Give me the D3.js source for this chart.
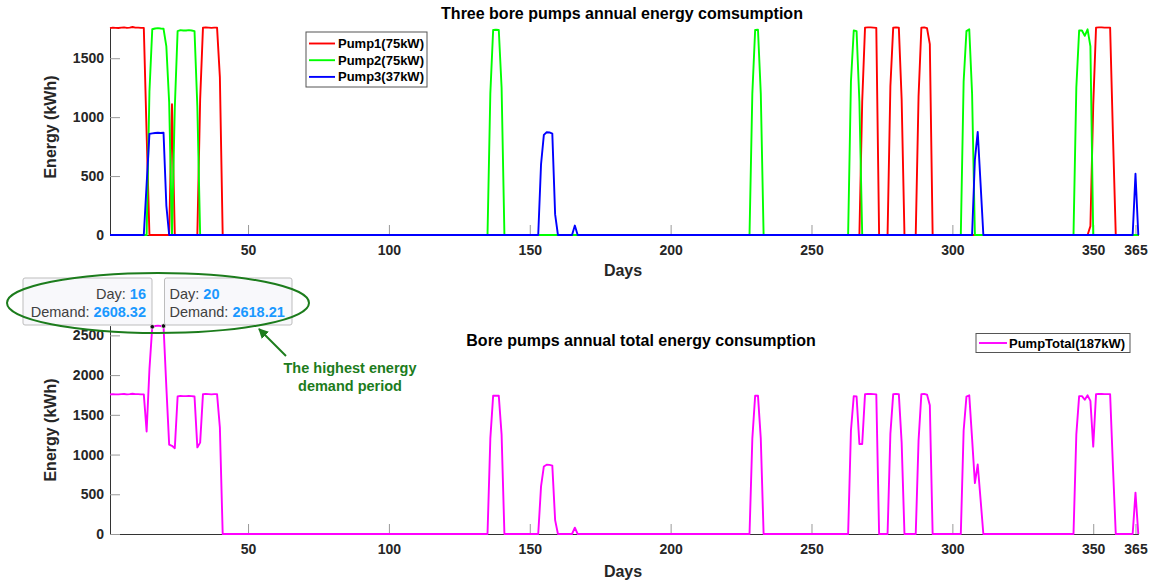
<!DOCTYPE html>
<html><head><meta charset="utf-8">
<script src="https://cdn.jsdelivr.net/npm/d3@7"></script>
<style>
body{margin:0;background:#fff}
svg{display:block}
text{font-family:"Liberation Sans",Arial,Helvetica,sans-serif}
</style>
</head><body>
<svg id="c" width="1153" height="583"></svg>
<script>
// ---------------- data ----------------
const dayCount = 366;                       // days 1..366 on the x axis
const xTickValues = [50, 100, 150, 200, 250, 300, 350, 365];
const topYTicks = [0, 500, 1000, 1500];
const bottomYTicks = [0, 500, 1000, 1500, 2000, 2500];
const seriesNames = ["Pump1(75kW)", "Pump2(75kW)", "Pump3(37kW)"];
const seriesColors = ["#ff0000", "#00ff00", "#0000ff"];
const totalName = "PumpTotal(187kW)";
const totalColor = "#ff00ff";

// runs of non-zero daily energy (kWh): start day + consecutive values; all other days are 0
const pump1Runs = [
  {start: 1,   values: [1755,1760,1758,1757,1760,1762,1758,1760,1765,1760,1760,1758,1758,860]},
  {start: 23,  values: [1110]},
  {start: 33,  values: [1150,1760,1762,1760,1758,1760,1760,1340]},
  {start: 268, values: [1133,1760,1762,1762,1760,1758]},
  {start: 278, values: [1260,1760,1762,1760,1150]},
  {start: 288, values: [1175,1760,1762,1755,1620]},
  {start: 349, values: [75,1100,1760,1762,1762,1760,1760,1760,850]}
];
const pump2Runs = [
  {start: 15,  values: [1215,1746,1752,1755,1752,1750,1600,1125]},
  {start: 24,  values: [1080,1730,1738,1735,1735,1738,1735,1730,1090]},
  {start: 136, values: [1200,1740,1742,1740,1250]},
  {start: 229, values: [1200,1740,1742,1200]},
  {start: 264, values: [1300,1735,1730,1133]},
  {start: 304, values: [1300,1730,1745,1200]},
  {start: 344, values: [1250,1735,1735,1690,1745,1600]}
];
const pump3Runs = [
  {start: 14,  values: [430,858,862.32,866,868,866,868.21,250]},
  {start: 154, values: [600,850,872,870,860,175]},
  {start: 166, values: [80]},
  {start: 308, values: [640,875,440]},
  {start: 365, values: [520]}
];
const datatips = [
  {day: 16, label: "Day: ", value: "16", dlabel: "Demand: ", dvalue: "2608.32"},
  {day: 20, label: "Day: ", value: "20", dlabel: "Demand: ", dvalue: "2618.21"}
];
const annotationLines = ["The highest energy", "demand period"];

// ---------------- build series ----------------
function expand(runs) {
  const arr = new Array(dayCount).fill(0);
  runs.forEach(r => r.values.forEach((v, i) => { arr[r.start - 1 + i] = v; }));
  return arr.map((v, i) => ({day: i + 1, value: v}));
}
const pumps = [pump1Runs, pump2Runs, pump3Runs].map(expand);
const total = pumps[0].map((d, i) => ({day: d.day, value: pumps[0][i].value + pumps[1][i].value + pumps[2][i].value}));

// ---------------- chart ----------------
const svg = d3.select("#c");
const x = d3.scaleLinear().domain([1, dayCount]).range([110, 1138.3]);
const yTop = d3.scaleLinear().domain([0, d3.max(pumps.flat(), d => d.value)]).range([235, 27]);
const yBot = d3.scaleLinear().domain([0, d3.max(total, d => d.value)]).range([534, 325.6]);

function drawAxes(y, yTicks, yBase) {
  const gx = svg.append("g").attr("transform", `translate(0,${yBase})`)
    .call(d3.axisBottom(x).tickValues(xTickValues).tickFormat(d3.format("d"))
      .tickSizeInner(-10).tickSizeOuter(0).tickPadding(10));
  const gy = svg.append("g").attr("transform", `translate(${x.range()[0]},0)`)
    .call(d3.axisLeft(y).tickValues(yTicks).tickFormat(d3.format("d"))
      .tickSizeInner(-10).tickSizeOuter(0).tickPadding(6));
  [gx, gy].forEach(g => {
    g.select(".domain").attr("stroke", "#333").attr("stroke-width", 1);
    g.selectAll(".tick line").attr("stroke", "#999").attr("stroke-width", 1);
    g.selectAll(".tick text").attr("fill", "#262626").attr("font-size", 14).attr("font-weight", "bold");
  });
}

function drawLine(data, y, color) {
  svg.append("path").datum(data)
    .attr("fill", "none").attr("stroke", color).attr("stroke-width", 1.9)
    .attr("stroke-linejoin", "round")
    .attr("d", d3.line().x(d => x(d.day)).y(d => y(d.value)));
}

// ---- top chart ----
drawAxes(yTop, topYTicks, 235);
pumps.forEach((p, i) => drawLine(p, yTop, seriesColors[i]));

svg.append("text").attr("x", 622).attr("y", 19).attr("text-anchor", "middle")
  .attr("font-size", 16).attr("font-weight", "bold").attr("fill", "#000")
  .text("Three bore pumps annual energy comsumption");
svg.append("text").attr("x", 623).attr("y", 276).attr("text-anchor", "middle")
  .attr("font-size", 16).attr("font-weight", "bold").attr("fill", "#262626").text("Days");
svg.append("text").attr("transform", "translate(56,127) rotate(-90)").attr("text-anchor", "middle")
  .attr("font-size", 16).attr("font-weight", "bold").attr("fill", "#262626").text("Energy (kWh)");

// top legend
const lg = svg.append("g");
lg.append("rect").attr("x", 306).attr("y", 32).attr("width", 121).attr("height", 55)
  .attr("fill", "#fff").attr("stroke", "#555").attr("stroke-width", 1);
seriesNames.forEach((n, i) => {
  const cy = 43.5 + i * 16.7;
  lg.append("line").attr("x1", 309).attr("x2", 335).attr("y1", cy).attr("y2", cy)
    .attr("stroke", seriesColors[i]).attr("stroke-width", 1.9);
  lg.append("text").attr("x", 338).attr("y", cy + 4.5).attr("font-size", 13)
    .attr("font-weight", "bold").attr("fill", "#000").text(n);
});

// ---- bottom chart ----
drawAxes(yBot, bottomYTicks, 534);
drawLine(total, yBot, totalColor);

svg.append("text").attr("x", 641).attr("y", 346).attr("text-anchor", "middle")
  .attr("font-size", 16).attr("font-weight", "bold").attr("fill", "#000")
  .text("Bore pumps annual total energy consumption");
svg.append("text").attr("x", 623).attr("y", 577).attr("text-anchor", "middle")
  .attr("font-size", 16).attr("font-weight", "bold").attr("fill", "#262626").text("Days");
svg.append("text").attr("transform", "translate(56,430) rotate(-90)").attr("text-anchor", "middle")
  .attr("font-size", 16).attr("font-weight", "bold").attr("fill", "#262626").text("Energy (kWh)");

// bottom legend
const lb = svg.append("g");
lb.append("rect").attr("x", 976).attr("y", 333.5).attr("width", 154).attr("height", 19)
  .attr("fill", "#fff").attr("stroke", "#555").attr("stroke-width", 1);
lb.append("line").attr("x1", 979).attr("x2", 1007).attr("y1", 343).attr("y2", 343)
  .attr("stroke", totalColor).attr("stroke-width", 1.9);
lb.append("text").attr("x", 1009).attr("y", 348).attr("font-size", 13)
  .attr("font-weight", "bold").attr("fill", "#000").text(totalName);

// datatip markers
datatips.forEach(t => {
  const v = total[t.day - 1].value;
  svg.append("circle").attr("cx", x(t.day)).attr("cy", yBot(v)).attr("r", 2.2)
    .attr("fill", "#111").attr("stroke", "#fff").attr("stroke-width", 0.6);
});

// datatip boxes
const tipBoxes = [
  {x: 23, w: 129, align: "end", tx: 146},
  {x: 164.5, w: 127.5, align: "start", tx: 169.5}
];
datatips.forEach((t, i) => {
  const b = tipBoxes[i];
  svg.append("rect").attr("x", b.x).attr("y", 278).attr("width", b.w).attr("height", 47)
    .attr("rx", 2).attr("fill", "#f8f8fb").attr("stroke", "#bdbdbd").attr("stroke-width", 1);
  const t1 = svg.append("text").attr("x", b.tx).attr("y", 298.5).attr("text-anchor", b.align)
    .attr("font-size", 14.5).attr("fill", "#404040");
  t1.append("tspan").text(t.label);
  t1.append("tspan").attr("fill", "#1a98ff").attr("font-weight", "bold").text(t.value);
  const t2 = svg.append("text").attr("x", b.tx).attr("y", 317).attr("text-anchor", b.align)
    .attr("font-size", 14.5).attr("fill", "#404040");
  t2.append("tspan").text(t.dlabel);
  t2.append("tspan").attr("fill", "#1a98ff").attr("font-weight", "bold").text(t.dvalue);
});

// green ellipse + arrow + note
const green = "#1c7c1c";
svg.append("ellipse").attr("cx", 158).attr("cy", 303).attr("rx", 151).attr("ry", 30)
  .attr("fill", "none").attr("stroke", green).attr("stroke-width", 2);
svg.append("defs").append("marker").attr("id", "ah").attr("viewBox", "0 0 10 10")
  .attr("refX", 9).attr("refY", 5).attr("markerWidth", 5).attr("markerHeight", 5)
  .attr("orient", "auto").append("path").attr("d", "M0,0 L10,5 L0,10 z").attr("fill", green);
svg.append("line").attr("x1", 286).attr("y1", 356).attr("x2", 259).attr("y2", 329)
  .attr("stroke", green).attr("stroke-width", 2).attr("marker-end", "url(#ah)");
annotationLines.forEach((l, i) => {
  svg.append("text").attr("x", 350).attr("y", 373 + i * 18).attr("text-anchor", "middle")
    .attr("font-size", 14.5).attr("font-weight", "bold").attr("fill", green).text(l);
});
</script>
</body></html>
